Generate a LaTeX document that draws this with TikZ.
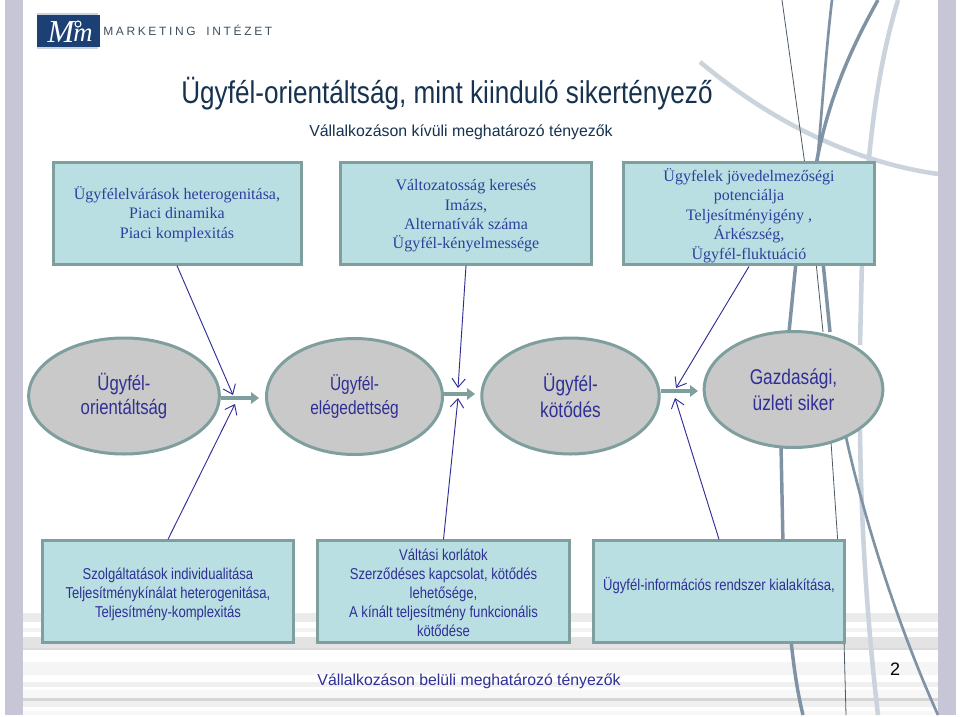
\documentclass[tikz,border=0pt]{standalone}
\usepackage{fontspec}
\setmainfont{Liberation Sans}
\newfontfamily\serifbox{Liberation Serif}
\newfontfamily\narrowbox[FakeStretch=0.83]{Liberation Sans}
\newfontfamily\narrowtitle[FakeStretch=0.83]{Liberation Sans}
\newfontfamily\narrowoval[FakeStretch=0.81]{Liberation Sans}
\newfontfamily\spacedlogo[LetterSpace=22]{Liberation Sans}
\newfontfamily\logoserif{Liberation Serif}
\usetikzlibrary{shapes.geometric,arrows.meta}
\definecolor{barcol}{HTML}{C6C6D6}
\definecolor{boxfill}{HTML}{B9DFE2}
\definecolor{edgecol}{HTML}{7F9F9E}
\definecolor{ovalfill}{HTML}{C9C9C9}
\definecolor{inkblue}{HTML}{2F2F96}
\definecolor{serifblue}{HTML}{2E3F9C}
\definecolor{titlecol}{HTML}{16324F}
\definecolor{logoblue}{HTML}{1C3F74}
\definecolor{logogrey}{HTML}{3F5060}
\definecolor{lightcurve}{HTML}{CBD3DC}
\definecolor{steelcurve}{HTML}{7F93A5}
\definecolor{darkthin}{HTML}{4A5A66}
% #1 = padding above the lines, #2 = padding below them, #3 = the lines
\newcommand{\boxlines}[3]{\raisebox{0pt}[\dimexpr\height+#1\relax][\dimexpr\depth+#2\relax]{\begin{tabular}{@{}c@{}}#3\end{tabular}}}
\tikzset{
  x=0.75pt,y=-0.75pt,
  infobox/.style={draw=edgecol,fill=boxfill,line width=2.25pt,rectangle,
    minimum width=188.5pt,minimum height=76pt,inner sep=0pt},
  topbox/.style={infobox,font=\serifbox\fontsize{12pt}{14.5pt}\selectfont,text=serifblue},
  lowbox/.style={infobox,font=\narrowbox\fontsize{11.8pt}{14.3pt}\selectfont,text=inkblue},
  oval/.style={ellipse,draw=edgecol,fill=ovalfill,line width=2.25pt,inner sep=0pt,
    minimum height=87pt,align=center,text=inkblue},
  flowarrow/.style={draw=edgecol,line width=3.6pt,-{Triangle[length=6pt,width=8.5pt]}},
  pointer/.style={draw=inkblue,line width=0.7pt,-{Straight Barb[length=6.5pt,width=10pt]}},
  thickdeco/.style={draw=steelcurve,line width=2.6pt},
  midcurve/.style={draw=steelcurve,line width=2pt},
  palecurve/.style={draw=lightcurve,line width=3.4pt},
  thindeco/.style={draw=darkthin,line width=0.6pt},
  stripe/.style={fill=#1,draw=none}
}
\begin{document}
\begin{tikzpicture}
\useasboundingbox (0,0) rectangle (960,717);
\fill[white] (0,0) rectangle (960,717);
% stripes
\fill[stripe=black!8!white] (23,613) rectangle (938,622);
\fill[stripe=black!5!white] (23,628) rectangle (938,632);
\fill[stripe=black!11!white] (23,637) rectangle (938,648);
\fill[stripe=black!14!white] (23,648) rectangle (938,650);
\fill[stripe=black!4!white] (23,662) rectangle (938,675);
\fill[stripe=black!6!white] (23,682) rectangle (938,687);
\fill[stripe=black!3!white] (23,690) rectangle (938,698);
\fill[stripe=black!16!white] (23,698) rectangle (938,701);
\fill[stripe=black!6!white] (23,701) rectangle (938,707);
\fill[stripe=black!3!white] (23,711) rectangle (938,715);
% side bars
\fill[barcol] (5,0) rectangle (23,715);
\fill[barcol] (938,0) rectangle (956,715);
% decorative curves
\draw[palecurve] (700,62) .. controls (760,112) and (840,160) .. (938,174);
\draw[palecurve] (898,0) .. controls (880,60) and (868,130) .. (862,260) -- (860,345);
\draw[palecurve] (860,430) .. controls (861,530) and (868,630) .. (878,715);
\draw[thindeco] (782,0) -- (805,165);
\draw[thindeco] (816,262) -- (823,332);
\draw[midcurve] (832,0) .. controls (826,50) and (822,110) .. (817,165);
\draw[thickdeco] (878,0) .. controls (850,50) and (828,100) .. (816,165);
\draw[thickdeco] (796,262) -- (789,332);
\draw[thickdeco] (823,262) -- (830,332);
\draw[thickdeco] (781,445) -- (783,545);
\draw[thindeco] (831,442) -- (838,545);
\draw[midcurve] (846,437) .. controls (862,510) and (895,620) .. (938,715);
\draw[thickdeco] (791,640) .. controls (794,670) and (798,695) .. (803,715);
\draw[thindeco] (844,640) -- (846,715);
% logo
\fill[lightcurve] (37,13) rectangle (98,49);
\fill[logoblue] (37,15) rectangle (100,47);
\node[text=white,inner sep=0pt,font=\logoserif\itshape\fontsize{24pt}{24pt}\selectfont] (logom) at (61,32) {M};
\node[text=white,inner sep=0pt,font=\logoserif\itshape\fontsize{20pt}{20pt}\selectfont] (logon) at (83,35) {m};
\draw[white,line width=0.8pt] (78,24) circle (3);
\node[anchor=west,inner sep=0pt,text=logogrey,font=\spacedlogo\fontsize{9pt}{9pt}\selectfont] (logotext) at (103,30) {MARKETING\hspace{8pt}INTÉZET};
% titles
\node[inner sep=0pt,text=titlecol,font=\narrowtitle\fontsize{23.6pt}{28pt}\selectfont] (title) at (447,94) {Ügyfél-orientáltság, mint kiinduló sikertényező};
\node[inner sep=0pt,text=titlecol,font=\fontsize{11.9pt}{14pt}\selectfont] (sub) at (461,132) {Vállalkozáson kívüli meghatározó tényezők};
\node[inner sep=0pt,text=inkblue,font=\fontsize{11.85pt}{14pt}\selectfont] (inner) at (469,681) {Vállalkozáson belüli meghatározó tényezők};
\node[inner sep=0pt,font=\fontsize{13.5pt}{15pt}\selectfont] (pageno) at (895,669) {2};
% boxes
\node[topbox,minimum width=186pt] (b1) at (177,213.5) {\boxlines{2.2pt}{0pt}{Ügyfélelvárások heterogenitása,\\Piaci dinamika\\Piaci komplexitás}};
\node[topbox] (b2) at (466,213.5) {\boxlines{3.8pt}{0pt}{Változatosság keresés\\Imázs,\\Alternatívák száma\\Ügyfél-kényelmessége}};
\node[topbox] (b3) at (749,213.5) {\boxlines{4.5pt}{0pt}{Ügyfelek jövedelmezőségi\\potenciálja\\Teljesítményigény ,\\Árkészség,\\Ügyfél-fluktuáció}};
\node[lowbox] (b4) at (168,591.5) {\boxlines{4.5pt}{0pt}{Szolgáltatások individualitása\\Teljesítménykínálat heterogenitása,\\Teljesítmény-komplexitás}};
\node[lowbox] (b5) at (443.5,591.5) {\boxlines{4.5pt}{0pt}{Váltási korlátok\\Szerződéses kapcsolat, kötődés\\lehetősége,\\A kínált teljesítmény funkcionális\\kötődése}};
\node[lowbox] (b6) at (719,591.5) {\boxlines{0pt}{7.5pt}{Ügyfél-információs rendszer kialakítása,}};
% ovals
\node[oval,minimum width=143pt,font=\narrowoval\fontsize{15.5pt}{18.3pt}\selectfont] (e1) at (124,396) {\boxlines{2.5pt}{0pt}{Ügyfél-\\orientáltság}};
\node[oval,minimum width=132pt,font=\narrowoval\fontsize{14.3pt}{18pt}\selectfont] (e2) at (354.5,396.5) {\boxlines{2.5pt}{0pt}{Ügyfél-\\elégedettség}};
\node[oval,minimum width=133pt,font=\narrowoval\fontsize{16pt}{19.5pt}\selectfont] (e3) at (570.5,396) {Ügyfél-\\kötődés};
\node[oval,minimum width=134pt,font=\narrowoval\fontsize{16pt}{19.5pt}\selectfont] (e4) at (793.5,389.5) {Gazdasági,\\üzleti siker};
% flow arrows
\coordinate (f1) at (259,398);
\coordinate (f2) at (475,394);
\coordinate (f3) at (698,391);
\draw[flowarrow] (e1.east |- f1) -- (f1);
\draw[flowarrow] (e2.east |- f2) -- (f2);
\draw[flowarrow] (e3.east |- f3) -- (f3);
% pointers
\coordinate (p1) at (233,395);
\coordinate (p4) at (235,404);
\coordinate (p2) at (458,388);
\coordinate (p5) at (458,398);
\coordinate (p3) at (676,388);
\coordinate (p6) at (675,398);
\draw[pointer] (b1.south) -- (p1);
\draw[pointer] (b4.north) -- (p4);
\draw[pointer] (b2.south) -- (p2);
\draw[pointer] (b5.north) -- (p5);
\draw[pointer] (b3.south) -- (p3);
\draw[pointer] (b6.north) -- (p6);
\end{tikzpicture}
\end{document}
